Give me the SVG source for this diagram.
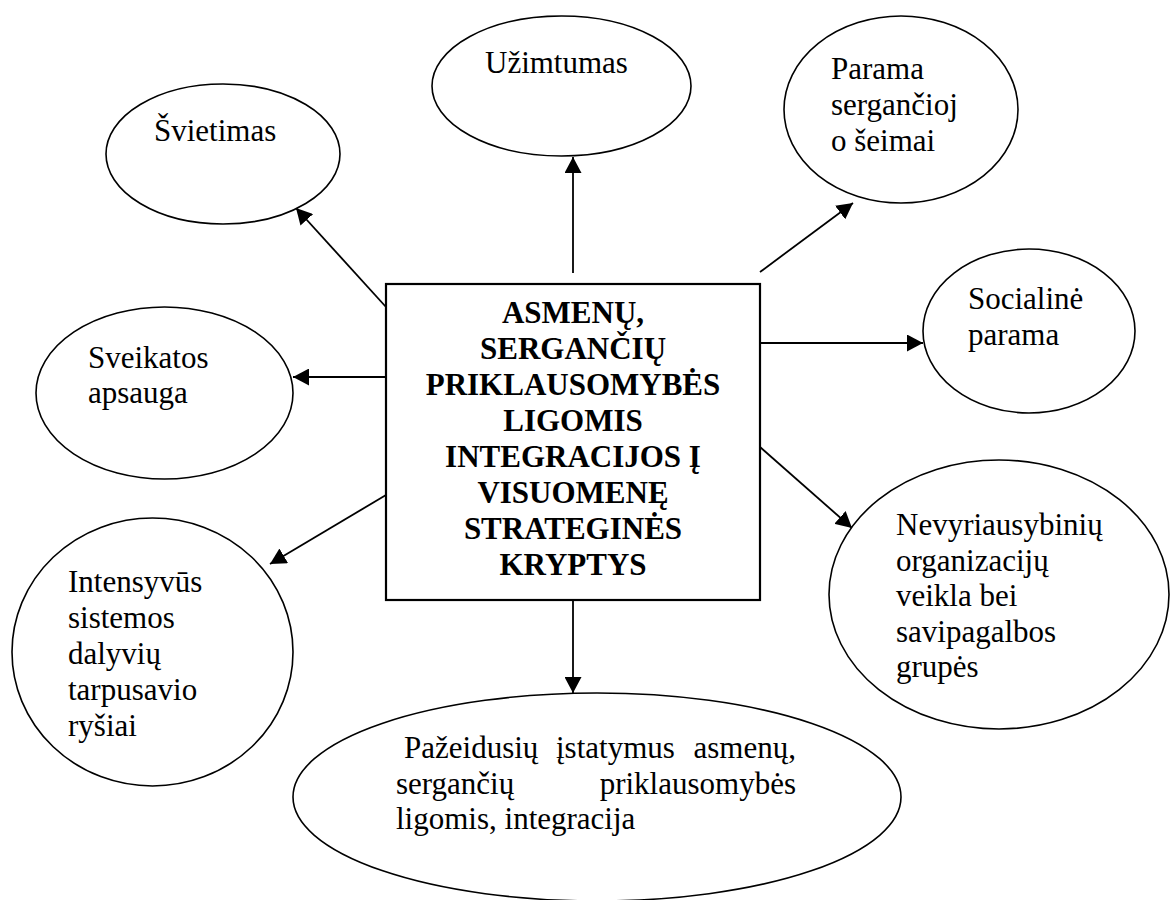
<svg xmlns="http://www.w3.org/2000/svg" width="1170" height="900" viewBox="0 0 1170 900">
<style>
.n{fill:#fff;stroke:#000;stroke-width:1.6}
.b{fill:#fff;stroke:#000;stroke-width:2.2}
.t{font-family:"Liberation Serif","Times New Roman",serif;font-size:31px;fill:#000}
.bt{font-family:"Liberation Serif","Times New Roman",serif;font-size:31px;font-weight:bold;fill:#000;text-anchor:middle}
.c{stroke:#000;stroke-width:1.8;fill:none;marker-end:url(#ah)}
</style>
<defs>
<marker id="ah" viewBox="0 0 16 17" refX="16" refY="8.5" markerWidth="16" markerHeight="17" markerUnits="userSpaceOnUse" orient="auto">
<path d="M0,0 L16,8.5 L0,17 z" fill="#000"/>
</marker>
</defs>
<rect width="1170" height="900" fill="#fff"/>
<g id="connectors">
<line class="c" x1="573" y1="273" x2="573" y2="157"/>
<line class="c" x1="386" y1="307" x2="296" y2="208"/>
<line class="c" x1="760" y1="272" x2="853" y2="203"/>
<line class="c" x1="760" y1="343" x2="923" y2="343"/>
<line class="c" x1="386" y1="377" x2="293" y2="377"/>
<line class="c" x1="386" y1="495" x2="270" y2="564"/>
<line class="c" x1="760" y1="447" x2="852" y2="528"/>
<line class="c" x1="573" y1="600" x2="573" y2="693"/>
</g>
<g id="center">
<rect class="b" x="386" y="284" width="374" height="316"/>
<text class="bt" x="573" y="323">ASMENŲ,</text>
<text class="bt" x="573" y="359">SERGANČIŲ</text>
<text class="bt" x="573" y="395">PRIKLAUSOMYBĖS</text>
<text class="bt" x="573" y="431">LIGOMIS</text>
<text class="bt" x="573" y="467">INTEGRACIJOS Į</text>
<text class="bt" x="573" y="503">VISUOMENĘ</text>
<text class="bt" x="573" y="539">STRATEGINĖS</text>
<text class="bt" x="573" y="575">KRYPTYS</text>
</g>
<g id="svietimas">
<ellipse class="n" cx="223" cy="154" rx="117" ry="70"/>
<text class="t" x="154" y="141">Švietimas</text>
</g>
<g id="uzimtumas">
<ellipse class="n" cx="561.5" cy="86" rx="129.5" ry="70"/>
<text class="t" x="485" y="73">Užimtumas</text>
</g>
<g id="parama-seimai">
<ellipse class="n" cx="901" cy="109.5" rx="117" ry="93.5"/>
<text class="t" x="831" y="79">Parama</text>
<text class="t" x="831" y="115">sergančioj</text>
<text class="t" x="831" y="151">o šeimai</text>
</g>
<g id="socialine">
<ellipse class="n" cx="1029" cy="331" rx="106" ry="82"/>
<text class="t" x="968" y="309">Socialinė</text>
<text class="t" x="968" y="345">parama</text>
</g>
<g id="sveikatos">
<ellipse class="n" cx="164.5" cy="393" rx="128.5" ry="86"/>
<text class="t" x="88" y="368">Sveikatos</text>
<text class="t" x="88" y="403">apsauga</text>
</g>
<g id="intensyvus">
<ellipse class="n" cx="152.5" cy="652" rx="140.5" ry="134"/>
<text class="t" x="68" y="592">Intensyvūs</text>
<text class="t" x="68" y="628">sistemos</text>
<text class="t" x="68" y="664">dalyvių</text>
<text class="t" x="68" y="700">tarpusavio</text>
<text class="t" x="68" y="736">ryšiai</text>
</g>
<g id="nevyriausybiniu">
<ellipse class="n" cx="999" cy="594.5" rx="170" ry="134.5"/>
<text class="t" x="896" y="535">Nevyriausybinių</text>
<text class="t" x="896" y="571">organizacijų</text>
<text class="t" x="896" y="606">veikla bei</text>
<text class="t" x="896" y="642">savipagalbos</text>
<text class="t" x="896" y="677">grupės</text>
</g>
<g id="pazeidusiu">
<ellipse class="n" cx="597" cy="797" rx="304" ry="104"/>
<text class="t" x="404" y="758">Pažeidusių</text>
<text class="t" x="556" y="758">įstatymus</text>
<text class="t" x="796" y="758" text-anchor="end">asmenų,</text>
<text class="t" x="396" y="794">sergančių</text>
<text class="t" x="796" y="794" text-anchor="end">priklausomybės</text>
<text class="t" x="396" y="829">ligomis, integracija</text>
</g>
</svg>
